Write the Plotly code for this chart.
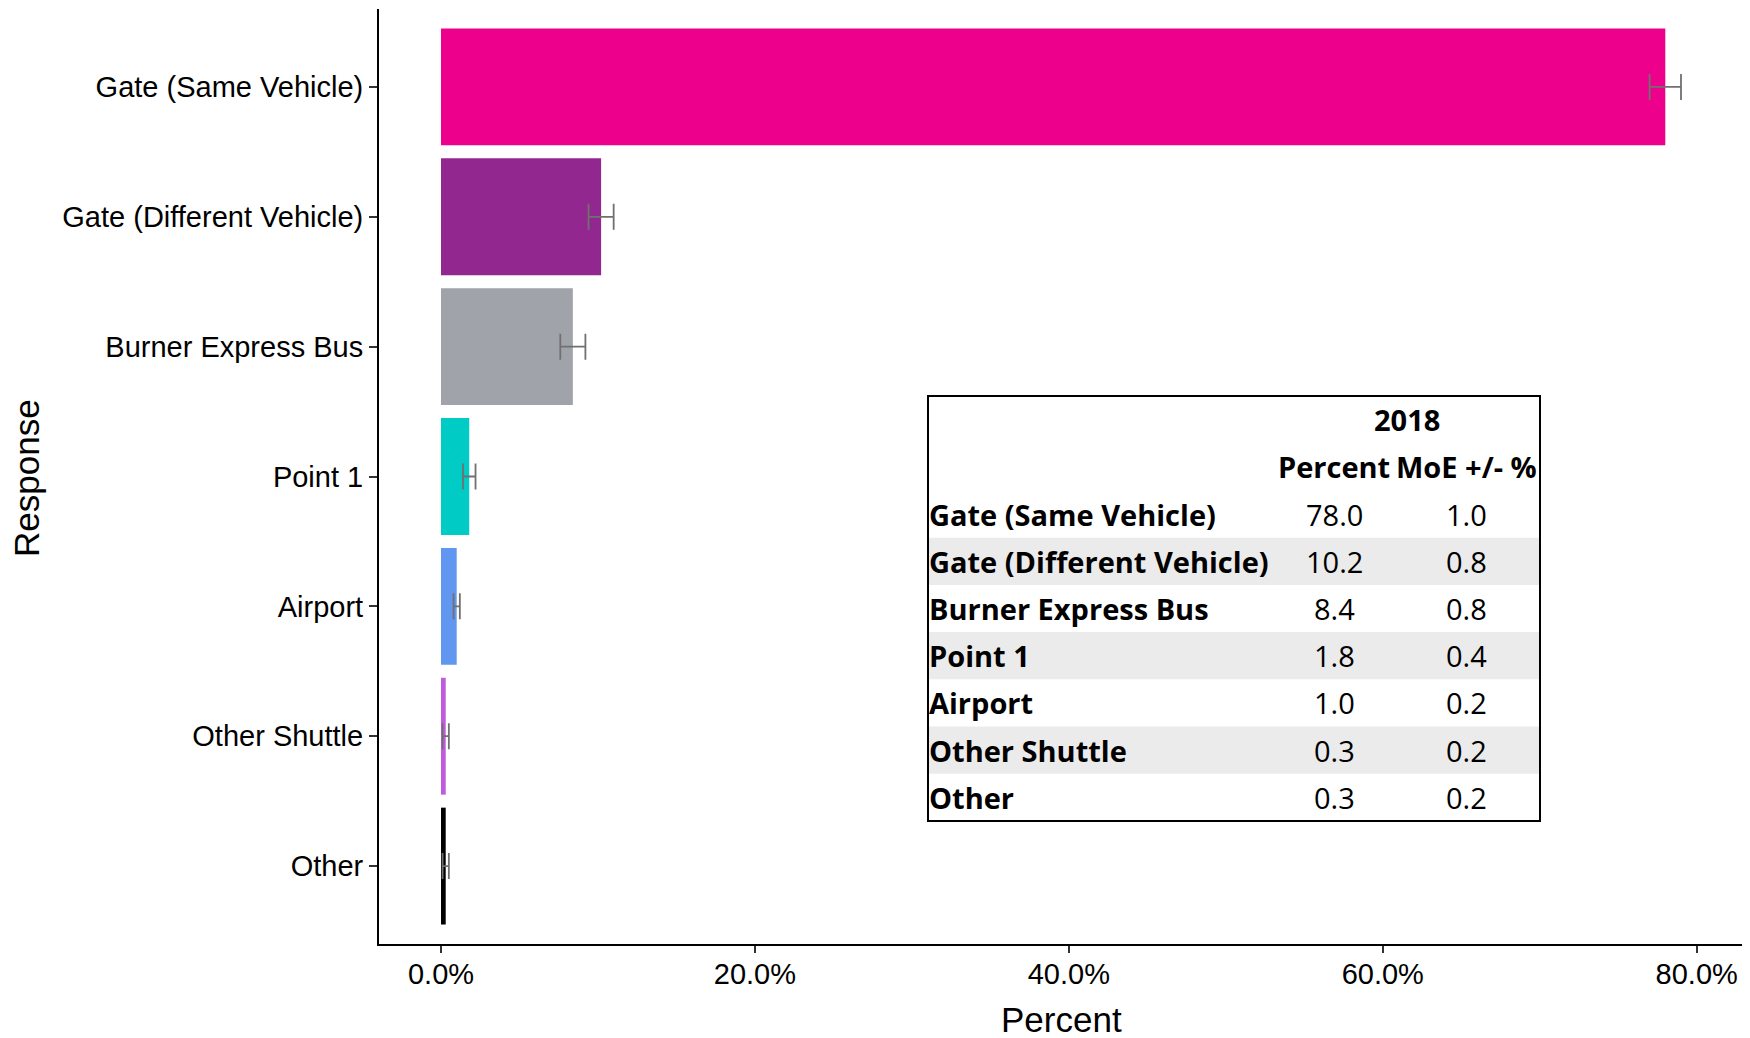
import plotly.graph_objects as go

categories = ["Gate (Same Vehicle)", "Gate (Different Vehicle)", "Burner Express Bus",
              "Point 1", "Airport", "Other Shuttle", "Other"]
percent = [78.0, 10.2, 8.4, 1.8, 1.0, 0.3, 0.3]
moe = [1.0, 0.8, 0.8, 0.4, 0.2, 0.2, 0.2]
colors = ["#EC008C", "#92278F", "#A0A3A9", "#00CCC5", "#6197F0", "#C05BE0", "#000000"]
x_tickvals = [0, 20, 40, 60, 80]
x_ticktext = ["0.0%", "20.0%", "40.0%", "60.0%", "80.0%"]
x_title = "Percent"
y_title = "Response"
table_year = "2018"
table_headers = ["Percent", "MoE +/- %"]

# page body has an 8px margin; design in screen pixels and compensate
OFF = 8
W, H = 1750 - OFF, 1038 - OFF
L, R, T, B = 379 - OFF, 7, 9 - OFF, 1038 - 944
PW, PH = W - L - R, H - T - B


def px(x):
    return (x - OFF - L) / PW


def py(y):
    return (H - B - (y - OFF)) / PH


fig = go.Figure()
fig.add_trace(go.Bar(
    y=categories, x=percent, orientation="h",
    marker=dict(color=colors, line=dict(width=0)),
    error_x=dict(type="data", array=moe, visible=True, color="#707070",
                 thickness=1.8, width=13),
    showlegend=False,
))

fig.update_layout(
    width=W, height=H,
    margin=dict(l=L, r=R, t=T, b=B, autoexpand=False),
    plot_bgcolor="white", paper_bgcolor="white",
    bargap=0.1,
    font=dict(family="Liberation Sans, Arial, sans-serif", color="black"),
    xaxis=dict(range=[-3.95, 82.95], tickvals=x_tickvals, ticktext=x_ticktext,
               showgrid=False, zeroline=False, showline=True, linecolor="black",
               linewidth=2, ticks="outside", ticklen=7, tickcolor="#333333",
               tickwidth=1.5, tickfont=dict(size=29, color="black"), automargin=False,
               ticklabelstandoff=-4),
    yaxis=dict(categoryorder="array", categoryarray=categories, range=[6.6, -0.6],
               showgrid=False, zeroline=False, showline=True, linecolor="black",
               linewidth=2, ticks="outside", ticklen=8, tickcolor="#333333",
               tickwidth=1.5, tickfont=dict(size=29, color="black"), automargin=False),
)

# axis titles
fig.add_annotation(text=x_title, xref="paper", yref="paper", x=0.5, y=py(1019),
                   xanchor="center", yanchor="middle", showarrow=False,
                   font=dict(size=35, family="Liberation Sans, Arial, sans-serif"))
fig.add_annotation(text=y_title, xref="paper", yref="paper", x=px(26), y=py(478),
                   xanchor="center", yanchor="middle", showarrow=False, textangle=-90,
                   font=dict(size=35, family="Liberation Sans, Arial, sans-serif"))

# table overlay
tx0, tx1, ty0, ty1 = 928, 1540, 396, 821
rh = (ty1 - ty0) / 9
shapes = []
for i in range(len(categories)):
    if i % 2 == 1:
        r0 = ty0 + (i + 2) * rh
        shapes.append(dict(type="rect", xref="paper", yref="paper",
                           x0=px(tx0), x1=px(tx1), y0=py(r0 + rh), y1=py(r0),
                           fillcolor="#EBEBEB", line=dict(width=0), layer="above"))
shapes.append(dict(type="rect", xref="paper", yref="paper",
                   x0=px(tx0), x1=px(tx1), y0=py(ty1), y1=py(ty0),
                   fillcolor="rgba(0,0,0,0)", line=dict(color="black", width=2), layer="above"))
fig.update_layout(shapes=shapes)

tfont = dict(family="Open Sans, sans-serif", size=29, color="black")
bfont = dict(family="Open Sans, sans-serif", size=29, color="black", weight="bold")
col_p, col_m = 1334, 1466


def ann(text, x, yrow, xanchor, font):
    fig.add_annotation(text=text, xref="paper", yref="paper", x=px(x),
                       y=py(ty0 + (yrow + 0.5) * rh), xanchor=xanchor, yanchor="middle",
                       showarrow=False, font=font)


ann(table_year, 1407, 0, "center", bfont)
ann(table_headers[0], col_p, 1, "center", bfont)
ann(table_headers[1], col_m, 1, "center", bfont)
for i, c in enumerate(categories):
    ann(c, 927, i + 2, "left", bfont)
    ann(f"{percent[i]:.1f}", col_p, i + 2, "center", tfont)
    ann(f"{moe[i]:.1f}", col_m, i + 2, "center", tfont)

fig.write_html("out.html")
